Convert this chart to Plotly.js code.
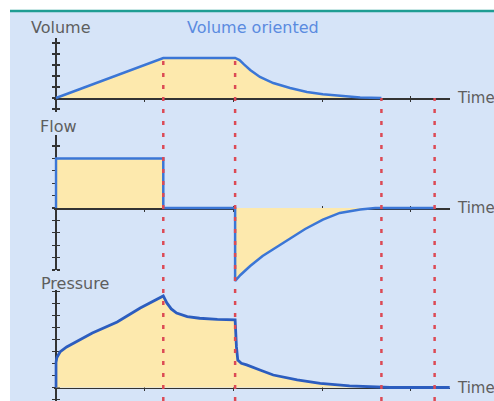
<!DOCTYPE html>
<html><head><meta charset="utf-8">
<script src="https://cdn.plot.ly/plotly-3.0.1.min.js"></script>
<style>html,body{margin:0;padding:0;background:#fff;overflow:hidden}</style>
</head><body><div id="chart" style="width:494px;height:401px"></div>
<script>
// ---------- data (time in s, signals in axis units) ----------
const volumeTime   = [0, 1.21, 2.02, 2.07, 2.12, 2.19, 2.30, 2.45, 2.64, 2.83, 3.01, 3.20, 3.43, 3.67];
const volumeValues = [0, 3.64, 3.64, 3.45, 3.05, 2.55, 1.91, 1.36, 0.91, 0.55, 0.34, 0.18, 0.04, 0];

const flowTime   = [0, 0, 1.21, 1.21, 2.02, 2.02, 2.08, 2.19, 2.33, 2.49, 2.64, 2.81, 3.01, 3.20, 3.43, 3.60, 4.27];
const flowValues = [0, 4.0, 4.0, 0, 0, -5.89, -5.40, -4.68, -3.87, -3.15, -2.42, -1.69, -0.93, -0.40, -0.12, 0, 0];

const pressureTime   = [0, 0, 0.01, 0.045, 0.12, 0.27, 0.41, 0.69, 0.95, 1.21, 1.25, 1.30, 1.36, 1.48, 1.62, 1.82, 2.02, 2.035, 2.05, 2.09, 2.15, 2.30, 2.45, 2.72, 2.98, 3.31, 3.57, 3.77, 4.44];
const pressureValues = [0, 2.1, 2.5, 2.96, 3.38, 3.96, 4.54, 5.46, 6.63, 7.63, 7.05, 6.55, 6.2, 5.9, 5.77, 5.68, 5.63, 3.38, 2.29, 2.02, 1.88, 1.46, 1.04, 0.63, 0.35, 0.13, 0.04, 0, 0];

const phaseMarkers = [1.21, 2.02, 3.67, 4.27];   // inspiration end, pause end, expiration end, next breath
const markerStartsAtPeak = [true, true, false, false];

const panelTitles = ['Volume', 'Flow', 'Pressure'];
const modeTitle = 'Volume oriented';
const timeLabel = 'Time';
const timeTicks = [1, 2, 3, 4];
const volumeTicks = [-1, 0, 1, 2, 3, 4, 5];
const flowTicks = [-5, -4, -3, -2, -1, 0, 1, 2, 3, 4, 5];
const pressureTicks = [-1, 0, 1, 2, 3, 4, 5, 6, 7, 8];

// ---------- layout geometry ----------
const W = 494, H = 401;
const PX_PER_S = 88.67, X_ORIGIN = 56, X_END = 450;
const fy = py => 1 - py / H;
const fx = px => px / W;
const xRange = [-0.02, (X_END - X_ORIGIN) / PX_PER_S];
const xDomain = [fx(X_ORIGIN + xRange[0] * PX_PER_S), fx(X_END)];

const AXIS = '#333333', FILL = '#fde9ad', BLUE = '#3b76d6', BLUE_DARK = '#2c5dbf', RED = '#dc4a55';
const LABEL = '#5e5e5e', BG = '#d6e4f8';

const panels = [
  {frame: [38, 112], data: [26, 118], base: 98, unit: 11, ticks: volumeTicks},
  {frame: [135, 270], data: [126, 294], base: 208, unit: 12.4, ticks: flowTicks},
  {frame: [290, 401], data: [282, 401], base: 387.5, unit: 12, ticks: pressureTicks}
];
const rangeOf = (p, lim) => [(p.base - lim[1]) / p.unit, (p.base - lim[0]) / p.unit];

const layout = {
  width: W, height: H,
  margin: {l: 0, r: 0, t: 0, b: 0, pad: 0},
  paper_bgcolor: '#ffffff', plot_bgcolor: 'rgba(0,0,0,0)',
  showlegend: false, hovermode: false,
  font: {family: 'DejaVu Sans', color: LABEL},
  shapes: [], annotations: []
};

panels.forEach((p, i) => {
  const xs = i === 0 ? '' : String(i + 1);
  layout['xaxis' + xs] = {
    domain: xDomain, range: xRange, anchor: 'free', position: fy(p.base),
    showline: true, linecolor: AXIS, linewidth: 1.5,
    tickmode: 'array', tickvals: timeTicks, ticks: 'outside', ticklen: 2, tickwidth: 1, tickcolor: AXIS,
    minor: {tickmode: 'array', tickvals: timeTicks.map(v => v + 1e-3), ticks: 'inside', ticklen: 2, tickwidth: 1, tickcolor: AXIS},
    showticklabels: false, showgrid: false, zeroline: false, layer: 'below traces', fixedrange: true
  };
  layout['yaxis' + xs] = {
    domain: [fy(p.frame[1]), fy(p.frame[0])], range: rangeOf(p, p.frame),
    anchor: 'free', position: fx(X_ORIGIN),
    showline: true, linecolor: AXIS, linewidth: 2,
    tickmode: 'array', tickvals: p.ticks, ticks: 'outside', ticklen: 3, tickwidth: 1.2, tickcolor: AXIS,
    minor: {tickmode: 'array', tickvals: p.ticks.map(v => v + 1e-3), ticks: 'inside', ticklen: 3, tickwidth: 1.2, tickcolor: AXIS},
    showticklabels: false, showgrid: false, zeroline: false, layer: 'below traces', fixedrange: true
  };
  layout['yaxis' + (i + 4)] = {
    domain: [fy(p.data[1]), fy(p.data[0])], range: rangeOf(p, p.data),
    anchor: 'free', position: 0, visible: false, fixedrange: true
  };
});

// background panel and teal rule
layout.shapes.push({type: 'rect', xref: 'paper', yref: 'paper', x0: fx(10), x1: 1, y0: 0, y1: fy(12),
  fillcolor: BG, line: {width: 0}, layer: 'below'});
layout.shapes.push({type: 'line', xref: 'paper', yref: 'paper', x0: fx(10), x1: 1, y0: fy(11), y1: fy(11),
  line: {color: '#1f9d93', width: 2.5}, layer: 'below'});

// phase markers (red dotted verticals)
const volPanel = panels[0];
const volPeak = Math.max(...volumeValues);
phaseMarkers.forEach((t, k) => {
  const topPx = volPanel.base - (markerStartsAtPeak[k] ? volPeak : 0) * volPanel.unit;
  layout.shapes.push({type: 'line', xref: 'x', yref: 'paper', x0: t, x1: t, y0: 0, y1: fy(topPx),
    line: {color: RED, width: 2.5, dash: '4px,8px'}, layer: 'above'});
});

// labels
const labelFont = {family: 'DejaVu Sans', size: 16, color: LABEL};
const timeFont = {family: 'DejaVu Sans', size: 15, color: LABEL};
const labelPos = [[61, 28], [58, 127], [75, 283]];
panelTitles.forEach((txt, i) => {
  layout.annotations.push({text: txt, xref: 'paper', yref: 'paper', x: fx(labelPos[i][0]), y: fy(labelPos[i][1]),
    xanchor: 'center', yanchor: 'middle', showarrow: false, font: labelFont});
  layout.annotations.push({text: timeLabel, xref: 'paper', yref: 'paper', x: fx(456), y: fy(panels[i].base),
    xanchor: 'left', yanchor: 'middle', showarrow: false, font: timeFont, borderpad: 0});
});
layout.annotations.push({text: modeTitle, xref: 'paper', yref: 'paper', x: fx(253), y: fy(28),
  xanchor: 'center', yanchor: 'middle', showarrow: false, font: {family: 'DejaVu Sans', size: 16, color: '#5b8be0'}});

const data = [
  {type: 'scatter', x: [], y: [], xaxis: 'x', yaxis: 'y', hoverinfo: 'skip'},
  {type: 'scatter', x: [], y: [], xaxis: 'x2', yaxis: 'y2', hoverinfo: 'skip'},
  {type: 'scatter', x: [], y: [], xaxis: 'x3', yaxis: 'y3', hoverinfo: 'skip'},
  {type: 'scatter', mode: 'lines', x: volumeTime, y: volumeValues, xaxis: 'x', yaxis: 'y4',
    fill: 'tozeroy', fillcolor: FILL, line: {color: BLUE, width: 2.5}},
  {type: 'scatter', mode: 'lines', x: flowTime, y: flowValues, xaxis: 'x2', yaxis: 'y5',
    fill: 'tozeroy', fillcolor: FILL, line: {color: BLUE, width: 2.5}},
  {type: 'scatter', mode: 'lines', x: pressureTime, y: pressureValues, xaxis: 'x3', yaxis: 'y6',
    fill: 'tozeroy', fillcolor: FILL, line: {color: BLUE_DARK, width: 2.8}}
];

Plotly.newPlot('chart', data, layout, {staticPlot: true, displayModeBar: false});
</script></body></html>
